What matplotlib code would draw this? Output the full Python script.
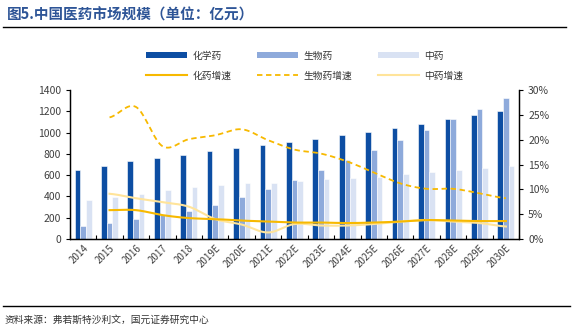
import numpy as np
import matplotlib
matplotlib.use("Agg")
import matplotlib.pyplot as plt
from matplotlib.patches import Patch
from matplotlib.lines import Line2D

plt.rcParams['font.family'] = ['Noto Sans CJK SC', 'DejaVu Sans']

years = ['2014', '2015', '2016', '2017', '2018', '2019E', '2020E', '2021E', '2022E',
         '2023E', '2024E', '2025E', '2026E', '2027E', '2028E', '2029E', '2030E']
chem = [650, 688, 729, 762, 792, 826, 853, 883, 912, 943, 975, 1009, 1043, 1084, 1125, 1165, 1203]
bio = [122, 148, 188, 225, 266, 320, 392, 470, 557, 648, 742, 839, 930, 1024, 1125, 1225, 1328]
tcm = [366, 398, 426, 460, 489, 511, 523, 529, 548, 561, 573, 586, 608, 630, 648, 670, 686]
chem_g = [None, 5.8, 5.8, 4.8, 4.2, 4.0, 3.7, 3.5, 3.3, 3.3, 3.2, 3.3, 3.5, 3.8, 3.7, 3.6, 3.6]
bio_g = [None, 24.5, 26.6, 18.7, 20.1, 20.9, 22.1, 19.9, 18.0, 17.2, 15.6, 13.4, 11.2, 10.1, 10.1, 9.2, 8.2]
tcm_g = [None, 9.1, 8.2, 7.4, 6.5, 4.0, 2.9, 1.3, 3.0, 2.7, 2.7, 3.0, 3.5, 3.8, 3.5, 3.2, 2.5]

C_CHEM = '#0d4ea3'
C_BIO = '#8eaadb'
C_TCM = '#d9e2f3'
C_CG = '#f7b900'
C_BG = '#f7b900'
C_TG = '#ffe49a'


def smooth(x, y, n=20):
    """Catmull-Rom style smooth rendering through the given points."""
    x = np.asarray(x, float)
    y = np.asarray(y, float)
    xs, ys = [], []
    m = len(x)
    for i in range(m - 1):
        p0 = y[i - 1] if i > 0 else y[i]
        p1, p2 = y[i], y[i + 1]
        p3 = y[i + 2] if i + 2 < m else y[i + 1]
        t = np.linspace(0, 1, n, endpoint=False)
        yy = 0.5 * ((2 * p1) + (-p0 + p2) * t + (2 * p0 - 5 * p1 + 4 * p2 - p3) * t ** 2
                    + (-p0 + 3 * p1 - 3 * p2 + p3) * t ** 3)
        xs.extend(x[i] + (x[i + 1] - x[i]) * t)
        ys.extend(yy)
    xs.append(x[-1])
    ys.append(y[-1])
    return np.array(xs), np.array(ys)


fig = plt.figure(figsize=(5.73, 3.30), dpi=100)
ax = fig.add_axes([0.122, 0.276, 0.784, 0.451])
ax2 = ax.twinx()

x = np.arange(len(years))
w = 0.215
ax.bar(x - w, chem, w, color=C_CHEM, edgecolor='white', linewidth=0.4, zorder=2)
ax.bar(x, bio, w, color=C_BIO, edgecolor='white', linewidth=0.4, zorder=2)
ax.bar(x + w, tcm, w, color=C_TCM, edgecolor='white', linewidth=0.4, zorder=2)

ax.set_ylim(0, 1400)
ax.set_yticks(range(0, 1401, 200))
ax.set_xlim(-0.5, len(years) - 0.5)
ax.set_xticks(x)
ax.set_xticklabels(years, rotation=45, ha='right', rotation_mode='anchor', fontsize=7, color='#404040')
ax.tick_params(axis='x', length=0, pad=3)
ax.set_xticks(np.arange(-0.5, len(years), 1), minor=True)
ax.tick_params(axis='x', which='minor', length=3, direction='in', width=0.8)
ax.tick_params(axis='y', labelsize=7.5, labelcolor='#404040', length=3, width=0.8)

for lst, col, ls, lw in [(bio_g, C_BG, (0, (3, 2)), 1.3), (tcm_g, C_TG, '-', 1.5), (chem_g, C_CG, '-', 1.5)]:
    xi = [i for i, v in enumerate(lst) if v is not None]
    yi = [lst[i] / 100 for i in xi]
    sx, sy = smooth(xi, yi)
    ax2.plot(sx, sy, color=col, linestyle=ls, linewidth=lw, zorder=3)

ax2.set_ylim(0, 0.30)
ax2.set_yticks(np.arange(0, 0.301, 0.05))
ax2.set_yticklabels([f'{int(round(v * 100))}%' for v in np.arange(0, 0.301, 0.05)])
ax2.tick_params(axis='y', labelsize=7.5, labelcolor='#404040', length=3, width=0.8)

for a in (ax, ax2):
    a.spines['top'].set_visible(False)
    for s in ('left', 'right', 'bottom'):
        a.spines[s].set_linewidth(0.9)
        a.spines[s].set_color('black')

handles = [
    Patch(facecolor=C_CHEM), Line2D([], [], color=C_CG, lw=1.5),
    Patch(facecolor=C_BIO), Line2D([], [], color=C_BG, lw=1.3, ls=(0, (3, 2))),
    Patch(facecolor=C_TCM), Line2D([], [], color=C_TG, lw=1.5),
]
labels = ['化学药', '化药增速', '生物药', '生物药增速', '中药', '中药增速']
fig.legend(handles, labels, ncol=3, loc='upper left', bbox_to_anchor=(0.24, 0.873),
           frameon=False, fontsize=7, handlelength=4.2, handleheight=0.5,
           columnspacing=2.6, labelspacing=1.0, handletextpad=0.6, labelcolor='#333333')

fig.text(0.012, 0.955, '图5.中国医药市场规模（单位：亿元）', fontsize=10.5, fontweight='bold',
         color='#2e5597', va='center', ha='left')
fig.add_artist(Line2D([0.006, 0.988], [0.918, 0.918], color='black', lw=1.0, transform=fig.transFigure))
fig.add_artist(Line2D([0.006, 0.994], [0.072, 0.072], color='black', lw=1.0, transform=fig.transFigure))
fig.text(0.008, 0.03, '资料来源：弗若斯特沙利文，国元证券研究中心', fontsize=7, color='#333333',
         va='center', ha='left')

fig.savefig('out.png', dpi=100)
